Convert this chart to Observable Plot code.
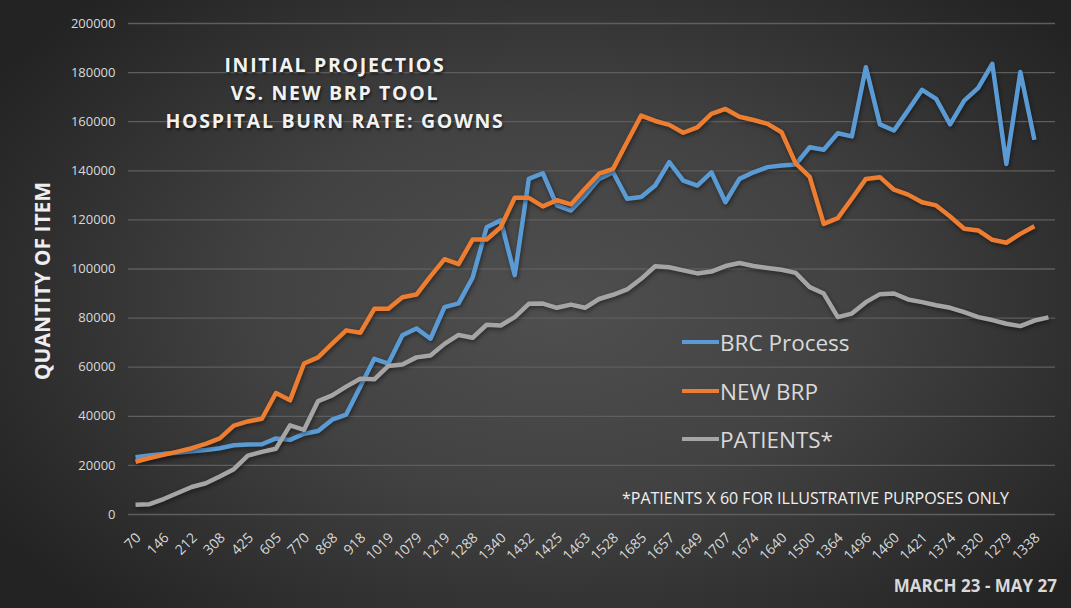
<!DOCTYPE html>
<html>
<head>
<meta charset="utf-8">
<script src="https://cdn.jsdelivr.net/npm/d3@7"></script>
<script src="https://cdn.jsdelivr.net/npm/@observablehq/plot@0.6"></script>
<style>
  body { margin: 0; background: #2a2a2a; }
  #wrap {
    position: relative; width: 1071px; height: 608px; overflow: hidden;
    background: radial-gradient(ellipse 62% 70% at 52% 50%, #4f4f4f 0%, #424242 45%, #2e2e2e 80%, #232323 100%);
    font-family: "Open Sans", sans-serif;
  }
  #chart { position: absolute; left: 0; top: 0; }
  #chart svg g[aria-label="line"] path { filter: drop-shadow(1px 2px 2px rgba(0,0,0,0.45)); }
  .title {
    position: absolute; left: 135px; width: 400px; top: 51px; text-align: center;
    color: #f2f2f2; font-weight: 700; font-size: 19.5px; letter-spacing: 1.7px; line-height: 28px;
    text-shadow: 1px 2px 3px rgba(0,0,0,0.6);
  }
  .ytitle {
    position: absolute; left: 42px; top: 281px; transform: translate(-50%, -50%) rotate(-90deg);
    white-space: nowrap; color: #eeeeee; font-weight: 700; font-size: 21px;
  }
  .leg { position: absolute; left: 682px; display: flex; align-items: center; color: #d9d9d9; font-size: 22.5px; }
  .leg span.sw { display: inline-block; width: 37px; height: 4.5px; margin-right: 1px; }
  .note { position: absolute; left: 622px; top: 487px; color: #f0f0f0; font-size: 16px; white-space: nowrap; }
  .dates { position: absolute; right: 14px; top: 574px; color: #d9d9d9; font-weight: 700; font-size: 17px; white-space: nowrap; }
</style>
</head>
<body>
<div id="wrap">
  <div id="chart"></div>
  <div class="title">INITIAL PROJECTIOS<br>VS. NEW BRP TOOL<br>HOSPITAL BURN RATE: GOWNS</div>
  <div class="ytitle">QUANTITY OF ITEM</div>
  <div id="legend"></div>
  <div class="note">*PATIENTS X 60 FOR ILLUSTRATIVE PURPOSES ONLY</div>
  <div class="dates">MARCH 23 - MAY 27</div>
</div>
<script>
// x-axis tick labels (shown on every other category)
const xLabels = ["70","146","212","308","425","605","770","868","918","1019","1079","1219","1288","1340","1432","1425","1463","1528","1685","1657","1649","1707","1674","1640","1500","1364","1496","1460","1421","1374","1320","1279","1338"];
const yTicks = [0,20000,40000,60000,80000,100000,120000,140000,160000,180000,200000];
const categoryCount = 66;

const seriesNames = ["BRC Process", "NEW BRP", "PATIENTS*"];
const seriesColors = ["#5b9bd5", "#ed7d31", "#a5a5a5"];

const brcProcess = [23300,24000,24700,25200,25800,26300,27000,28200,28500,28600,
  31000,30400,32900,34000,38600,40700,52000,63400,61500,73000,
  75800,71600,84500,86000,96500,117000,119800,97500,136700,139000,
  125900,123800,129900,136700,139400,128600,129300,134000,143500,136000,
  134000,139400,127200,136700,139400,141500,142200,142600,149600,148600,
  155300,154000,182200,158900,156400,164600,173000,169300,158900,168600,
  173800,183600,142800,180200,152600];

const newBrp = [21500,23000,24300,25600,27000,28800,31000,36200,37900,39000,
  49500,46500,61500,64000,69600,75000,74000,83800,83800,88500,
  89600,97000,104000,102000,112000,112000,117000,129000,129000,125500,
  128000,126300,132700,138800,140800,151700,162500,160300,158700,155500,
  157700,163200,165200,162000,160700,159100,155700,143000,137500,118400,
  120700,128600,136700,137400,132300,130300,127200,125900,121400,116400,
  115700,111900,110700,114300,117400];

const patients = [4000,4200,6300,8760,11200,12720,15500,18480,24000,25500,
  26800,36300,34500,46200,48500,52080,55300,55080,60500,61140,
  64000,64740,69500,73140,72000,77280,77000,80400,85800,85920,
  84200,85500,84200,87780,89500,91680,96000,101100,100700,99420,
  98200,98940,101200,102420,101200,100440,99700,98400,92600,90000,
  80400,81840,86500,89760,90000,87600,86500,85260,84200,82440,
  80400,79200,77700,76740,79000,80280];

const allSeries = [brcProcess, newBrp, patients];
const rows = [];
allSeries.forEach((arr, s) => arr.forEach((v, i) => rows.push({ i, v, s: seriesNames[s] })));
const tickIdx = xLabels.map((_, k) => k * 2);

const chart = Plot.plot({
  width: 1071, height: 608,
  marginLeft: 128, marginRight: 16, marginTop: 23, marginBottom: 94,
  style: { background: "transparent", color: "#d9d9d9", fontFamily: "Open Sans, sans-serif", fontSize: "12px" },
  x: { domain: [-0.5, categoryCount - 0.5], label: null, axis: null },
  y: { domain: [0, 200000], label: null, ticks: yTicks, tickFormat: d3.format("d"), tickSize: 0, tickPadding: 13 },
  color: { domain: seriesNames, range: seriesColors },
  marks: [
    Plot.gridY(yTicks, { stroke: "#5e5e5e", strokeOpacity: 1, strokeWidth: 1.3 }),
    Plot.text(tickIdx, { x: d => d, text: d => xLabels[d / 2], frameAnchor: "bottom", rotate: -45,
      textAnchor: "end", lineAnchor: "middle", dx: 3, dy: 21, fontSize: 14, fill: "#d9d9d9" }),
    Plot.line(rows, { x: "i", y: "v", z: "s", stroke: "s", strokeWidth: 4.5, strokeLinejoin: "round", strokeLinecap: "butt" })
  ]
});
chart.querySelectorAll('g[aria-label="y-axis tick label"]').forEach(g => { g.setAttribute("fill", "#d9d9d9"); g.setAttribute("font-size", "13"); });
document.getElementById("chart").appendChild(chart);

const legend = document.getElementById("legend");
const legendTops = [342, 391, 439];
seriesNames.forEach((name, k) => {
  const d = document.createElement("div");
  d.className = "leg";
  d.style.top = (legendTops[k] - 15) + "px";
  d.style.height = "30px";
  d.innerHTML = `<span class="sw" style="background:${seriesColors[k]}"></span><span>${name}</span>`;
  legend.appendChild(d);
});
</script>
</body>
</html>
